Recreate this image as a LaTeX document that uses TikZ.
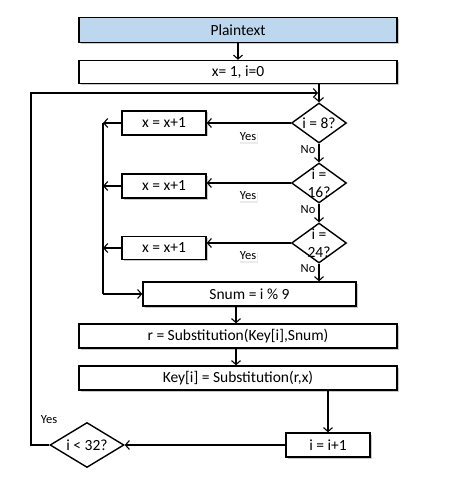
\documentclass[tikz,border=0pt]{standalone}
\usepackage{fontspec}
\setmainfont{Carlito}
\usetikzlibrary{shapes.geometric,arrows.meta,shadows}

\definecolor{plainblue}{RGB}{189,215,238}

\tikzset{
  box/.style={draw, line width=1.4pt, fill=white, inner sep=0pt,
    font=\fontsize{15.5}{18}\selectfont,
    drop shadow={shadow xshift=1.5pt, shadow yshift=-1.5pt, fill=black!35, opacity=0.6}},
  decision/.style={diamond, draw, line width=1.4pt, fill=white, inner sep=0pt, text width=0pt},
  dtext/.style={align=center, font=\fontsize{15.5}{18}\selectfont, inner sep=0pt},
  flow/.style={line width=1.1pt, -{Straight Barb[length=4pt,width=9pt,line width=1.1pt]}},
  plainline/.style={line width=1.1pt},
  yeslabel/.style={fill=white, inner sep=1pt, font=\fontsize{12.5}{14}\selectfont,
    drop shadow={shadow xshift=1pt, shadow yshift=-1.5pt, fill=black!15, opacity=0.5}},
  nolabel/.style={inner sep=0pt, font=\fontsize{12.5}{14}\selectfont}
}

\begin{document}
\begin{tikzpicture}[x=1pt,y=-1pt]
\useasboundingbox[fill=white] (0,0) rectangle (471,481);
% Drawing boxes
\node[box, fill=plainblue, minimum width=318pt, minimum height=25pt] (plain) at (238,30) {Plaintext};
\node[box, minimum width=318pt, minimum height=23pt] (init) at (238,72) {x= 1, i=0};
\node[box, minimum width=84pt, minimum height=24pt] (inc1) at (164,123) {x = x+1};
\node[box, minimum width=84pt, minimum height=24pt] (inc2) at (164,186) {x = x+1};
\node[box, minimum width=84pt, minimum height=23pt] (inc3) at (164,248) {x = x+1};
\node[box, minimum width=213pt, minimum height=24pt] (snum) at (249.5,294) {Snum = i \% 9};
\node[box, minimum width=318pt, minimum height=24pt] (subst) at (238,336) {r = Substitution(Key[i],Snum)};
\node[box, minimum width=318pt, minimum height=24pt] (key) at (238,378) {Key[i] = Substitution(r,x)};
\node[box, minimum width=84pt, minimum height=24pt] (inci) at (328,445) {i = i+1};
% Drawing decisions
\node[decision, minimum width=55pt, minimum height=40pt, label={[dtext]center:{i = 8?}}] (d8) at (319,123) {};
\node[decision, minimum width=55pt, minimum height=40pt, label={[dtext]center:{i =\\16?}}] (d16) at (319,183) {};
\node[decision, minimum width=55pt, minimum height=40pt, label={[dtext]center:{i =\\24?}}] (d24) at (319,243) {};
\node[decision, minimum width=74pt, minimum height=45pt, label={[dtext]center:{i < 32?}}] (d32) at (87,445) {};
% Helper points
\coordinate (join) at (319,93);
\coordinate (rail) at (103,294);
\coordinate (back) at (31,445);
\coordinate (mid) at (236,0);
% Drawing connectors
\draw[flow] (plain) -- (init);
\draw[plainline] (d8.north |- init.south) -- (join);
\draw[flow] (join) -- (d8.north);
\draw[flow] (d8.west) -- (d8.west -| inc1.east);
\draw[flow] (d16.west) -- (d16.west -| inc2.east);
\draw[flow] (d24.west) -- (d24.west -| inc3.east);
\draw[flow] (inc1.west) -- (inc1.west -| rail);
\draw[flow] (inc2.west) -- (inc2.west -| rail);
\draw[flow] (inc3.west) -- (inc3.west -| rail);
\draw[plainline] (inc1.west -| rail) -- (rail);
\draw[flow] (rail) -- (snum.west);
\draw[flow] (d8.south) -- (d16.north);
\draw[flow] (d16.south) -- (d24.north);
\draw[flow] (d24.south) -- (d24.south |- snum.north);
\draw[flow] (snum.south -| mid) -- (subst.north -| mid);
\draw[flow] (subst.south -| mid) -- (key.north -| mid);
\draw[flow] (key.south -| inci.north) -- (inci.north);
\draw[flow] (inci.west) -- (d32.east);
\draw[flow] (d32.west) -- (back) |- ([xshift=-1pt]join);
% Drawing labels
\node[yeslabel] (y8) at (248,137) {Yes};
\node[yeslabel] (y16) at (248,196) {Yes};
\node[yeslabel] (y24) at (248,256) {Yes};
\node[nolabel] (y32) at (49,420) {Yes};
\node[nolabel] (n8) at (308,150) {No};
\node[nolabel] (n16) at (308,210) {No};
\node[nolabel] (n24) at (308,269) {No};
\end{tikzpicture}
\end{document}
